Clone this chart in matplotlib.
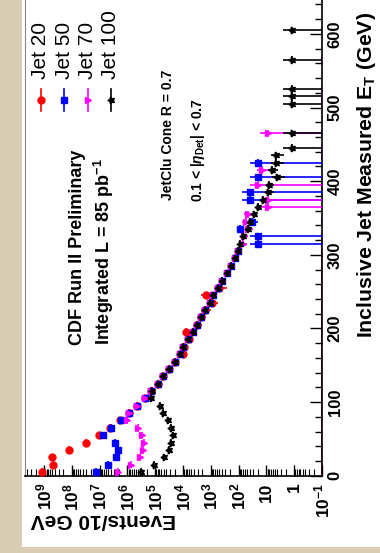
import numpy as np
import matplotlib
matplotlib.use("Agg")
import matplotlib.pyplot as plt
from matplotlib.patches import Rectangle
from matplotlib.ticker import FuncFormatter, LogLocator, MultipleLocator, NullFormatter

plt.rcParams['font.family'] = ['Liberation Sans', 'DejaVu Sans']
plt.rcParams['mathtext.fontset'] = 'custom'
plt.rcParams['mathtext.rm'] = 'Liberation Sans:bold'
plt.rcParams['mathtext.it'] = 'Liberation Sans:bold:italic'
plt.rcParams['mathtext.bf'] = 'Liberation Sans:bold'

# --- data: inclusive jet E_T spectra (events / 10 GeV) ---
# Jet 20 trigger
et_20 = list(range(5, 260, 10))
n_20 = [1.2e9, 4.7e8, 5.1e8, 1.3e8, 3.2e7, 1.05e7, 4.2e6, 1.8e6, 8.5e5, 4.5e5,
        2.3e5, 1.4e5, 8.1e4, 5.1e4, 3.1e4, 1.95e4, 9.8e3, 9.5e3, 6.3e3, 7.8e3,
        3.1e3, 2.2e3, 1.6e3, 930, 1.5e3, 520]
relerr_20 = [0] * 16 + [0.2, 0.25, 0.3, 0.3, 0.35, 0.35, 0.4, 0.4, 0.45, 0.5]

# Jet 50 trigger
et_50 = list(range(5, 310, 10)) + [315, 325, 335, 345, 375, 385, 405, 425]
n_50 = [1.4e7, 5.0e6, 2.5e6, 2.2e6, 2.8e6, 7.4e6, 4.0e6, 1.75e6, 8.5e5, 4.5e5,
        2.3e5, 1.4e5, 8.1e4, 5.1e4, 3.1e4, 1.95e4, 1.3e4, 9.8e3, 6.5e3, 4.3e3,
        3.1e3, 2.2e3, 1.6e3, 1.07e3, 810, 560, 410, 270, 180, 135, 107,
        19.5, 19.5, 89, 34, 39, 39, 19.5, 19.5]
relerr_50 = [0] * 25 + [0.1, 0.12, 0.15, 0.18, 0.2, 0.25,
                        1.0, 1.0, 0.3, 0.4, 1.0, 1.0, 1.0, 1.0]

# Jet 70 trigger
et_70 = list(range(5, 360, 10)) + [365, 375, 395, 415, 465]
n_70 = [2.2e6, 7.4e5, 3.6e5, 2.7e5, 2.45e5, 2.9e5, 4.3e5, 1.07e6, 8.5e5, 4.5e5,
        2.3e5, 1.4e5, 8.1e4, 5.1e4, 3.1e4, 1.95e4, 1.3e4, 9.8e3, 6.5e3, 4.3e3,
        3.1e3, 2.2e3, 1.6e3, 1.07e3, 810, 560, 410, 270, 180, 135, 107,
        68, 63, 45, 56, 45, 8.5, 8.5, 19.5, 14.8, 8.5]
relerr_70 = [0] * 25 + [0.1, 0.1, 0.12, 0.15, 0.18, 0.2, 0.25, 0.3, 0.3, 0.35, 0.4,
                        1.0, 1.0, 1.0, 0.5, 1.0]

# Jet 100 trigger
et_100 = list(range(5, 440, 10)) + [445, 465, 505, 515, 525, 565, 605]
n_100 = [3.2e5, 1.07e5, 4.7e4, 3.2e4, 2.6e4, 2.35e4, 2.7e4, 3.6e4, 5.4e4, 6.8e4,
         1.45e5, 1.35e5, 8.1e4, 5.1e4, 3.1e4, 1.95e4, 1.3e4, 9.8e3, 6.5e3, 4.3e3,
         3.1e3, 2.2e3, 1.6e3, 1.07e3, 810, 560, 410, 270, 180, 135, 107,
         89, 68, 45, 39, 28, 19.5, 12.9, 8.5, 7.9, 4.3, 6.5, 4.5, 4.5,
         1.23, 1.23, 1.23, 1.23, 1.23, 1.23, 1.23]
relerr_100 = [0] * 31 + [0.1, 0.12, 0.15, 0.15, 0.2, 0.22, 0.3, 0.35, 0.35, 0.5, 0.4, 0.5, 0.5,
                         1.0, 1.0, 1.0, 1.0, 1.0, 1.0, 1.0]

# empty bins, drawn on the axis floor
zero_20 = list(range(5, 330, 10))
zero_50 = [345, 385, 465]
zero_70 = [395, 435, 445, 505, 515, 525, 565, 605]

labels = ['Jet 20', 'Jet 50', 'Jet 70', 'Jet 100']
colors = ['#ff0000', '#0000ff', '#ff00ff', '#000000']
markers = ['o', 's', '>', (5, 1, 90)]
sizes = [5.0, 4.6, 4.6, 5.2]

BIN_HALF = 5
FLOOR = 0.1

W, H = 380, 553
fig = plt.figure(figsize=(W / 100, H / 100), dpi=100)
fig.patch.set_facecolor('#d8cdb2')
fig.patches.append(Rectangle((22 / W, 6 / H), 1, 1, transform=fig.transFigure,
                             facecolor='white', edgecolor='none', zorder=-5))

ax_l, ax_r, ax_b = 25, 322, 475.7
ax = fig.add_axes([ax_l / W, (H - ax_b) / H, (ax_r - ax_l) / W, ax_b / H])
ax.set_zorder(2)


def axc(px, py):
    return (px - ax_l) / (ax_r - ax_l), (ax_b - py) / ax_b


series = [(et_20, n_20, relerr_20), (et_50, n_50, relerr_50),
          (et_70, n_70, relerr_70), (et_100, n_100, relerr_100)]
for (et, n, rel), c, m, ms in zip(series, colors, markers, sizes):
    n = np.array(n)
    err = n * np.array(rel)
    ax.errorbar(n, et, xerr=err, yerr=BIN_HALF, fmt='none', ecolor=c,
                elinewidth=1.2, capsize=0, zorder=3)
    ax.plot(n, et, ls='none', marker=m, color=c, ms=ms, mec=c, zorder=4)

for z, c in zip([zero_20, zero_50, zero_70], colors[:3]):
    ax.errorbar([FLOOR] * len(z), z, yerr=BIN_HALF, fmt='none', ecolor=c,
                elinewidth=2.0, capsize=0, zorder=2)

ax.set_xscale('log')
ax.set_xlim(10 ** 9.683, FLOOR)
ax.set_ylim(0, 646)

ax.yaxis.tick_right()
ax.yaxis.set_major_locator(MultipleLocator(100))
ax.yaxis.set_minor_locator(MultipleLocator(20))
ax.tick_params(axis='y', which='major', direction='in', length=9, width=1, pad=4,
               labelsize=12, labelrotation=90)
ax.tick_params(axis='y', which='minor', direction='in', length=5, width=1)
for t in ax.get_yticklabels():
    t.set_fontweight('bold')
    t.set_va('center')

ax.xaxis.set_major_locator(LogLocator(base=10, numticks=20))
ax.xaxis.set_minor_locator(LogLocator(base=10, subs=np.arange(2, 10), numticks=200))
ax.xaxis.set_minor_formatter(NullFormatter())


def log_label(v, pos):
    k = int(round(np.log10(v)))
    if k == 0:
        return '1'
    if k == 1:
        return '10'
    return r'$10^{%d}$' % k


ax.xaxis.set_major_formatter(FuncFormatter(log_label))
ax.tick_params(axis='x', which='major', direction='in', length=8, width=1, pad=5,
               labelsize=12.5, labelrotation=90)
ax.tick_params(axis='x', which='minor', direction='in', length=5, width=0.8)
for t in ax.get_xticklabels():
    t.set_fontweight('bold')

ax.spines['top'].set_visible(False)
ax.spines['left'].set_color('#888888')
ax.spines['bottom'].set_linewidth(1.2)
ax.spines['right'].set_linewidth(1.2)

# legend, drawn rotated like the rest of the panel
leg_x = [41, 64.3, 87.7, 111]
for px, lab, c, m, ms in zip(leg_x, labels, colors, markers, sizes):
    mx, my = axc(px, 100)
    ax.plot([mx, mx], [axc(px, 89)[1], axc(px, 111)[1]], color=c, lw=1.2,
            transform=ax.transAxes, clip_on=False)
    ax.plot([mx], [my], marker=m, color=c, ms=ms, transform=ax.transAxes, clip_on=False)
    tx, ty = axc(px, 79)
    ax.text(tx, ty, lab, transform=ax.transAxes, rotation=90, rotation_mode='anchor',
            ha='left', va='center', fontsize=15)

tx, ty = axc(78, 345)
ax.text(tx, ty, 'CDF Run II Preliminary', transform=ax.transAxes, rotation=90,
        rotation_mode='anchor', ha='left', va='center', fontsize=13, fontweight='bold')
tx, ty = axc(104, 345)
ax.text(tx, ty, r'Integrated L = 85 pb$^{-1}$', transform=ax.transAxes, rotation=90,
        rotation_mode='anchor', ha='left', va='center', fontsize=13, fontweight='bold')
tx, ty = axc(168, 200)
ax.text(tx, ty, 'JetClu Cone R = 0.7', transform=ax.transAxes, rotation=90,
        rotation_mode='anchor', ha='left', va='center', fontsize=10, fontweight='bold')
tx, ty = axc(198, 202)
ax.text(tx, ty, r'0.1 < |$\eta_{\mathrm{Det}}$| < 0.7', transform=ax.transAxes, rotation=90,
        rotation_mode='anchor', ha='left', va='center', fontsize=10, fontweight='bold')

fig.text(366 / W, 1 - 338 / H, r'Inclusive Jet Measured E$_{\mathrm{T}}$ (GeV)', rotation=90,
         rotation_mode='anchor', ha='left', va='center', fontsize=15.3, fontweight='bold')
fig.text(103 / W, 1 - 520 / H, 'Events/10 GeV', rotation=180, ha='center', va='center',
         fontsize=15, fontweight='bold')

fig.savefig('out.png', dpi=100, facecolor=fig.get_facecolor())
